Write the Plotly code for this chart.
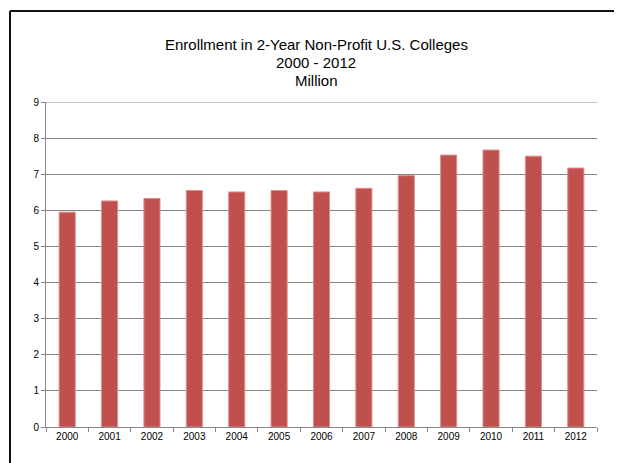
import plotly.graph_objects as go

years = ["2000", "2001", "2002", "2003", "2004", "2005", "2006",
         "2007", "2008", "2009", "2010", "2011", "2012"]
enrollment = [5.95, 6.26, 6.33, 6.55, 6.51, 6.55, 6.51,
              6.61, 6.96, 7.53, 7.67, 7.50, 7.17]
y_ticks = [0, 1, 2, 3, 4, 5, 6, 7, 8, 9]
title_lines = ["Enrollment in 2-Year Non-Profit U.S. Colleges", "2000 - 2012", "Million"]

# the page puts the figure 8px in from the top-left corner
OFF = 8
W, H = 622 - OFF, 463 - OFF
L, R, T, B = 46 - OFF, 25, 102 - OFF, 36
pw, ph = W - L - R, H - T - B


def px_x(x):
    # x in window pixels -> paper fraction
    return (x - OFF - L) / pw


def px_y(y):
    return (H - B - (y - OFF)) / ph


fig = go.Figure(
    go.Bar(
        x=years,
        y=enrollment,
        marker=dict(color="#c0504d", line=dict(color="#d9908d", width=1)),
    )
)

# title as three separate lines to control spacing
title_y = [45, 62, 80]
annotations = [
    dict(text=line, xref="paper", yref="paper", x=px_x(316), y=px_y(yy),
         xanchor="center", yanchor="middle", showarrow=False,
         font=dict(size=15))
    for line, yy in zip(title_lines, title_y)
]

fig.update_layout(
    width=W,
    height=H,
    margin=dict(l=L, r=R, t=T, b=B),
    paper_bgcolor="white",
    plot_bgcolor="white",
    bargap=0.62,
    showlegend=False,
    font=dict(family="Liberation Sans, Arial, sans-serif", color="#000"),
    annotations=annotations,
    shapes=[
        # top gridline at the range end
        dict(type="line", xref="paper", yref="y",
             x0=0, x1=1, y0=y_ticks[-1], y1=y_ticks[-1],
             line=dict(color="#868686", width=1)),
        # chart border
        dict(type="line", xref="paper", yref="paper",
             x0=px_x(10), x1=px_x(622), y0=px_y(11), y1=px_y(11),
             line=dict(color="#111", width=2)),
        dict(type="line", xref="paper", yref="paper",
             x0=px_x(10), x1=px_x(10), y0=px_y(11), y1=px_y(470),
             line=dict(color="#111", width=2)),
        dict(type="line", xref="paper", yref="paper",
             x0=px_x(620), x1=px_x(620), y0=px_y(12), y1=px_y(470),
             line=dict(color="#d0d0d0", width=1.5)),
    ],
)

fig.update_xaxes(
    showline=True,
    linecolor="#868686",
    linewidth=1,
    ticks="outside",
    tickson="boundaries",
    ticklen=4,
    tickcolor="#868686",
    tickfont=dict(size=10),
    showgrid=False,
)

fig.update_yaxes(
    range=[0, 9],
    tickvals=y_ticks,
    showline=True,
    linecolor="#868686",
    linewidth=1,
    ticks="outside",
    ticklen=4,
    tickcolor="#868686",
    tickfont=dict(size=10),
    showgrid=True,
    gridcolor="#868686",
    gridwidth=1,
    zeroline=False,
)

fig.write_html("out.html")
